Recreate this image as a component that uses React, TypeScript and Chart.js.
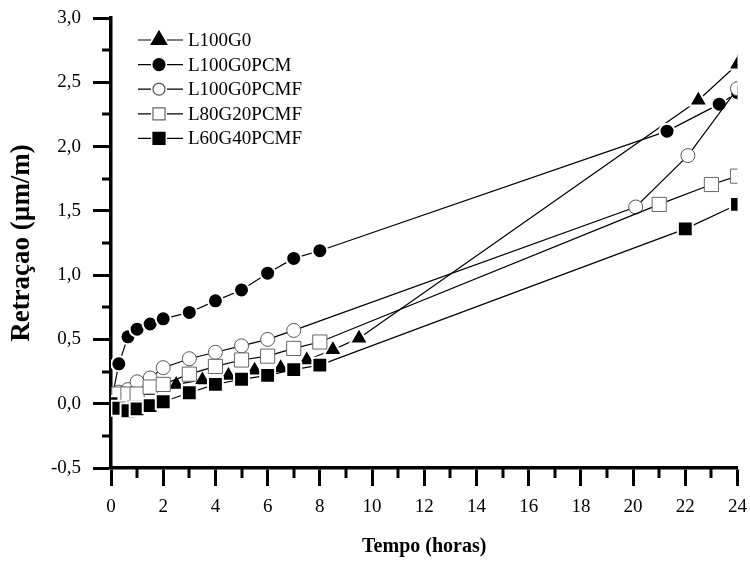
import React, { useEffect, useRef } from 'react';
import { Chart, registerables } from 'chart.js';
import { drawPoint } from 'chart.js/helpers';

Chart.register(...registerables);

// ---- data ----
const seriesNames = ['L100G0', 'L100G0PCM', 'L100G0PCMF', 'L80G20PCMF', 'L60G40PCMF'];

const l100g0Time = [0, 1.5, 2.5, 3.5, 4.5, 5.5, 6.5, 7.5, 8.5, 9.5, 22.5, 24];
const l100g0Value = [0, 0.1, 0.15, 0.185, 0.22, 0.26, 0.28, 0.34, 0.42, 0.51, 2.36, 2.64];

const l100g0pcmTime = [0, 0.3, 0.65, 1, 1.5, 2, 3, 4, 5, 6, 7, 8, 21.3, 23.3, 24];
const l100g0pcmValue = [0, 0.31, 0.52, 0.58, 0.62, 0.66, 0.71, 0.8, 0.885, 1.015, 1.13, 1.19, 2.12, 2.33, 2.42];

const l100g0pcmfTime = [0, 0.3, 0.65, 1, 1.5, 2, 3, 4, 5, 6, 7, 20.1, 22.1, 24];
const l100g0pcmfValue = [0, 0.09, 0.11, 0.17, 0.2, 0.28, 0.35, 0.4, 0.45, 0.5, 0.57, 1.53, 1.93, 2.45];

const l80g20pcmfTime = [0, 0.3, 0.65, 1, 1.5, 2, 3, 4, 5, 6, 7, 8, 21, 23, 24];
const l80g20pcmfValue = [0, 0.075, 0.075, 0.075, 0.13, 0.15, 0.23, 0.29, 0.34, 0.37, 0.43, 0.48, 1.55, 1.705, 1.77];

const l60g40pcmfTime = [0, 0.3, 0.65, 1, 1.5, 2, 3, 4, 5, 6, 7, 8, 22, 24];
const l60g40pcmfValue = [0, -0.035, -0.055, -0.04, -0.015, 0.015, 0.085, 0.15, 0.19, 0.22, 0.265, 0.3, 1.36, 1.55];

const yMinorTicks = [-0.25, 0.25, 0.75, 1.25, 1.75, 2.25, 2.75];
const xMinorTicks = [1, 3, 5, 7, 9, 11, 13, 15, 17, 19, 21, 23];

const FONT = "'Liberation Serif', 'Times New Roman', serif";

type Style = { pointStyle: any; radius: number; bg: string; border: string; borderWidth: number; legendRadius: number };
const styles: Style[] = [
  { pointStyle: 'triangle', radius: 10.5, bg: '#000', border: '#fff', borderWidth: 2, legendRadius: 9 },
  { pointStyle: 'circle', radius: 7.5, bg: '#000', border: '#fff', borderWidth: 2, legendRadius: 6 },
  { pointStyle: 'circle', radius: 7, bg: '#fff', border: '#555', borderWidth: 1, legendRadius: 6 },
  { pointStyle: 'rect', radius: 10, bg: '#fff', border: '#666', borderWidth: 1, legendRadius: 8.5 },
  { pointStyle: 'rect', radius: 10.5, bg: '#000', border: '#fff', borderWidth: 2, legendRadius: 8.5 },
];

const zip = (t: number[], v: number[]) => t.map((x, i) => ({ x, y: v[i] }));

const seriesData = [
  zip(l100g0Time, l100g0Value),
  zip(l100g0pcmTime, l100g0pcmValue),
  zip(l100g0pcmfTime, l100g0pcmfValue),
  zip(l80g20pcmfTime, l80g20pcmfValue),
  zip(l60g40pcmfTime, l60g40pcmfValue),
];

const minorTicksPlugin = {
  id: 'minorTicks',
  afterDraw(chart: any) {
    const { ctx, scales } = chart;
    const x = scales.x;
    const y = scales.y;
    ctx.save();
    ctx.strokeStyle = '#000';
    ctx.lineWidth = 3;
    for (const v of yMinorTicks) {
      const py = Math.round(y.getPixelForValue(v));
      ctx.beginPath();
      ctx.moveTo(chart.chartArea.left - 9, py);
      ctx.lineTo(chart.chartArea.left, py);
      ctx.stroke();
    }
    for (const v of xMinorTicks) {
      const px = Math.round(x.getPixelForValue(v));
      ctx.beginPath();
      ctx.moveTo(px, chart.chartArea.bottom);
      ctx.lineTo(px, chart.chartArea.bottom + 10);
      ctx.stroke();
    }
    ctx.restore();
  },
};

const legendPlugin = {
  id: 'customLegend',
  afterDraw(chart: any) {
    const { ctx, chartArea } = chart;
    ctx.save();
    const left = chartArea.left;
    const top = chartArea.top;
    seriesNames.forEach((name, i) => {
      const yy = top + 22 + i * 24.6;
      const s = styles[i];
      ctx.strokeStyle = '#000';
      ctx.lineWidth = 1.2;
      ctx.beginPath();
      ctx.moveTo(left + 27, yy);
      ctx.lineTo(left + 40, yy);
      ctx.moveTo(left + 56, yy);
      ctx.lineTo(left + 72, yy);
      ctx.stroke();
      ctx.fillStyle = s.bg;
      ctx.strokeStyle = s.bg === '#000' ? '#000' : s.border;
      drawPoint(ctx, { pointStyle: s.pointStyle, rotation: 0, radius: s.legendRadius, borderWidth: 1 } as any, left + 48, yy);
      ctx.fillStyle = '#000';
      ctx.font = `19px ${FONT}`;
      ctx.textBaseline = 'middle';
      ctx.textAlign = 'left';
      ctx.fillText(name, left + 77, yy + 1);
    });
    ctx.restore();
  },
};

export default function App() {
  const ref = useRef<HTMLCanvasElement | null>(null);

  useEffect(() => {
    document.body.style.margin = '0';
    const canvas = ref.current;
    if (!canvas) return;
    const chart = new Chart(canvas, {
      type: 'line',
      data: {
        datasets: seriesNames.map((name, i) => ({
          label: name,
          data: seriesData[i],
          borderColor: '#000',
          borderWidth: 1.2,
          fill: false,
          tension: 0,
          pointStyle: styles[i].pointStyle,
          pointRadius: styles[i].radius,
          pointBackgroundColor: styles[i].bg,
          pointBorderColor: styles[i].border,
          pointBorderWidth: styles[i].borderWidth,
          order: 5 - i,
        })),
      },
      options: {
        responsive: false,
        animation: false,
        devicePixelRatio: 1,
        layout: { padding: { top: 18, right: 10, left: 0, bottom: 0 } },
        plugins: {
          legend: { display: false },
          tooltip: { enabled: false },
        },
        scales: {
          x: {
            type: 'linear',
            min: 0,
            max: 24,
            afterFit: (scale: any) => {
              scale.height = 98;
              scale.paddingLeft = 0;
              scale.paddingRight = 0;
            },
            ticks: {
              stepSize: 2,
              color: '#000',
              padding: 10,
              maxRotation: 0,
              font: { family: FONT, size: 19 },
            },
            grid: {
              drawOnChartArea: false,
              drawTicks: true,
              tickLength: 18,
              tickWidth: 3,
              tickColor: '#000',
            },
            border: { display: true, color: '#000', width: 3.5 },
            title: {
              display: true,
              text: 'Tempo (horas)',
              color: '#000',
              font: { family: FONT, size: 20, weight: 'bold' },
              padding: { top: 0, bottom: 7 },
            },
          },
          y: {
            type: 'linear',
            min: -0.5,
            max: 3,
            afterFit: (scale: any) => {
              scale.width = 111;
              scale.paddingTop = 0;
              scale.paddingBottom = 0;
            },
            ticks: {
              stepSize: 0.5,
              color: '#000',
              padding: 12,
              font: { family: FONT, size: 19 },
              callback: (v: any) => Number(v).toFixed(1).replace('.', ','),
            },
            grid: {
              drawOnChartArea: false,
              drawTicks: true,
              tickLength: 18,
              tickWidth: 3,
              tickColor: '#000',
            },
            border: { display: true, color: '#000', width: 3.5 },
            title: {
              display: true,
              text: 'Retraçao (µm/m)',
              color: '#000',
              font: { family: FONT, size: 27, weight: 'bold' },
              padding: { top: 6, bottom: 0 },
            },
          },
        },
      },
      plugins: [minorTicksPlugin, legendPlugin],
    });
    return () => chart.destroy();
  }, []);

  return (
    <div style={{ width: 750, height: 566, background: '#fff' }}>
      <canvas ref={ref} width={750} height={566} />
    </div>
  );
}
